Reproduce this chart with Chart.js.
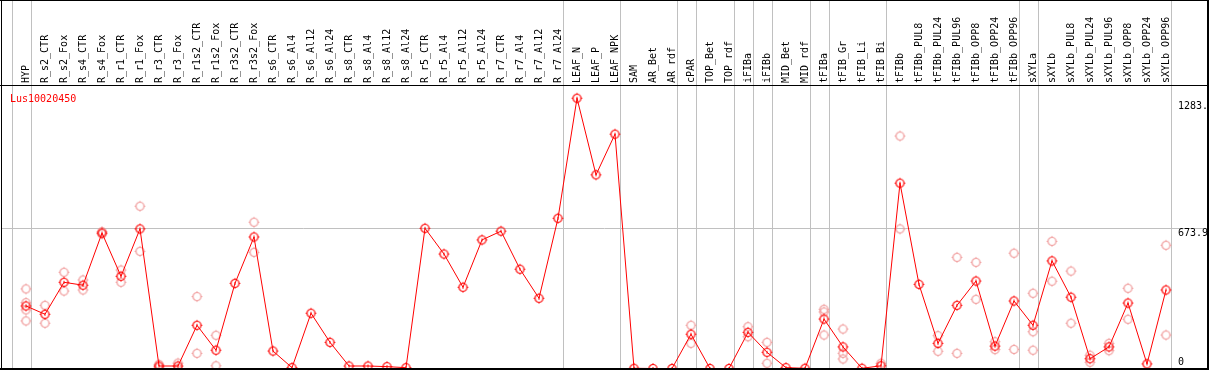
<!DOCTYPE html>
<html>
<head>
<meta charset="utf-8">
<script src="https://cdn.jsdelivr.net/npm/chart.js@4.4.1/dist/chart.umd.min.js"></script>
<style>
  html, body { margin: 0; padding: 0; background: #fff; }
  canvas { display: block; }
</style>
</head>
<body>
<canvas id="c" width="1209" height="370"></canvas>
<script>
const geneName = "Lus10020450";

const categories = [
  "HYP","R_s2_CTR","R_s2_Fox","R_s4_CTR","R_s4_Fox","R_r1_CTR","R_r1_Fox","R_r3_CTR","R_r3_Fox",
  "R_r1s2_CTR","R_r1s2_Fox","R_r3s2_CTR","R_r3s2_Fox","R_s6_CTR","R_s6_Al4","R_s6_Al12","R_s6_Al24",
  "R_s8_CTR","R_s8_Al4","R_s8_Al12","R_s8_Al24","R_r5_CTR","R_r5_Al4","R_r5_Al12","R_r5_Al24",
  "R_r7_CTR","R_r7_Al4","R_r7_Al12","R_r7_Al24","LEAF_N","LEAF_P","LEAF_NPK","SAM","AR_Bet","AR_rdf",
  "cPAR","TOP_Bet","TOP_rdf","iFIBa","iFIBb","MID_Bet","MID_rdf","tFIBa","tFIB_Gr","tFIB_Li","tFIB_Bi",
  "tFIBb","tFIBb_PUL8","tFIBb_PUL24","tFIBb_PUL96","tFIBb_OPP8","tFIBb_OPP24","tFIBb_OPP96",
  "sXYLa","sXYLb","sXYLb_PUL8","sXYLb_PUL24","sXYLb_PUL96","sXYLb_OPP8","sXYLb_OPP24","sXYLb_OPP96"
];

const meanValues = [
  301, 261, 415, 401, 652, 444, 672, 12, 12,
  208, 88, 410, 633, 84, 4, 266, 126,
  12, 12, 9, 4, 675, 551, 391, 619,
  661, 478, 338, 723, 1301, 932, 1128, 1, 0, 0,
  165, 0, 0, 174, 78, 4, 1, 238, 104, 1, 13,
  892, 405, 121, 304, 421, 108, 325,
  208, 518, 343, 47, 104, 315, 22, 378
];

// replicate samples: category index and value
const repIndex = [
  0,0,0,0, 1,1, 2,2, 3,3, 4,4, 5,5, 6,6, 7,7, 8,8, 9,9, 10,10, 12,12,
  35,35, 38,38, 39,39, 42,42,42, 43,43,43, 45,
  46,46, 48,48, 49,49, 50,50, 51,51, 52,52,
  53,53,53, 54,54, 55,55, 56,56, 57,57, 58,58, 60,60
];
const repValue = [
  383,317,282,229, 304,218, 463,373, 426,378, 659,648, 474,415, 781,564, 20,4, 26,0, 346,73, 160,13, 704,559,
  208,121, 201,153, 126,25, 285,272,161, 190,73,46, 25,
  1119,672, 158,83, 535,73, 511,333, 129,91, 555,92,
  362,177,88, 612,420, 469,218, 64,30, 121,86, 386,237, 593,161
];

const yTickValues = [0, 673.9, 1283];
const yTickLabels = ["0", "673.9", "1283."];
const gridValues = [673.9];
// group separators drawn just after these category indices
const separatorsAfter = [-1, 0, 28, 31, 34, 35, 37, 38, 39, 41, 42, 45, 52, 53, 60];

function makeMarker(color, centerDot) {
  const c = document.createElement('canvas');
  c.width = 13; c.height = 13;
  const g = c.getContext('2d');
  g.strokeStyle = color;
  g.lineWidth = 1.2;
  g.beginPath(); g.arc(6.5, 6.5, 4, 0, 2 * Math.PI); g.stroke();
  g.lineWidth = 1;
  g.beginPath();
  g.moveTo(6.5, 1.2); g.lineTo(6.5, 2.6);
  g.moveTo(6.5, 10.4); g.lineTo(6.5, 11.8);
  g.moveTo(1.2, 6.5); g.lineTo(2.6, 6.5);
  g.moveTo(10.4, 6.5); g.lineTo(11.8, 6.5);
  g.stroke();
  if (centerDot) { g.fillStyle = color; g.fillRect(6, 5, 1, 3); }
  return c;
}

const RED = '#ff0000';
const PINK = '#f09a9a';
const GRID = '#c0c0c0';
const FONT = '"DejaVu Sans Mono", "Liberation Mono", monospace';

const decor = {
  id: 'decor',
  beforeDatasetsDraw(chart) {
    const ctx = chart.ctx, xs = chart.scales.x, ys = chart.scales.y, a = chart.chartArea;
    ctx.save();
    ctx.strokeStyle = GRID; ctx.lineWidth = 1;
    separatorsAfter.forEach(i => {
      const x = Math.round(xs.getPixelForValue(i + 0.24)) + 0.5;
      ctx.beginPath(); ctx.moveTo(x, 0); ctx.lineTo(x, chart.height); ctx.stroke();
    });
    gridValues.forEach(v => {
      const y = Math.round(ys.getPixelForValue(v)) + 0.5;
      ctx.beginPath(); ctx.moveTo(a.left, y); ctx.lineTo(a.right, y); ctx.stroke();
    });
    ctx.restore();
  },
  afterDraw(chart) {
    const ctx = chart.ctx, ys = chart.scales.y, a = chart.chartArea;
    ctx.save();
    ctx.fillStyle = '#000';
    ctx.font = '10px ' + FONT;
    ctx.textAlign = 'left';
    yTickValues.forEach((v, k) => {
      const y = ys.getPixelForValue(v);
      if (v === 0) { ctx.textBaseline = 'bottom'; ctx.fillText(yTickLabels[k], 1178, y - 1); }
      else { ctx.textBaseline = 'top'; ctx.fillText(yTickLabels[k], 1178, y - 0.5); }
    });
    ctx.fillStyle = RED;
    ctx.textBaseline = 'top';
    ctx.fillText(geneName, 10, a.top + 9);
    // frame
    ctx.fillStyle = '#000';
    ctx.fillRect(0, 0, chart.width, 1);
    ctx.fillRect(0, a.top, chart.width, 1);
    ctx.fillRect(1, 0, 1, chart.height);
    ctx.fillRect(chart.width - 2, 0, 2, chart.height);
    ctx.fillRect(0, chart.height - 2, chart.width, 2);
    ctx.restore();
  }
};

new Chart(document.getElementById('c'), {
  type: 'line',
  data: {
    datasets: [
      {
        label: 'mean',
        data: meanValues.map((v, i) => ({ x: i, y: v })),
        borderColor: RED,
        borderWidth: 1,
        pointStyle: makeMarker(RED, true),
        pointRadius: 6,
        tension: 0,
        fill: false,
        clip: false
      },
      {
        label: 'replicates',
        data: repValue.map((v, k) => ({ x: repIndex[k], y: v })),
        showLine: false,
        borderColor: PINK,
        pointStyle: makeMarker(PINK, false),
        pointRadius: 6,
        clip: false
      }
    ]
  },
  options: {
    responsive: false,
    animation: false,
    devicePixelRatio: 1,
    layout: { autoPadding: false, padding: { left: 2, right: 2, top: 0, bottom: 1 } },
    plugins: { legend: { display: false }, tooltip: { enabled: false }, title: { display: false } },
    scales: {
      x: {
        type: 'linear',
        position: 'top',
        min: -24 / 19,
        max: -24 / 19 + 1205 / 19,
        grid: { display: false, drawTicks: false },
        border: { display: false },
        afterBuildTicks: (axis) => { axis.ticks = categories.map((c, i) => ({ value: i })); },
        afterFit: (axis) => {
          axis.height = 85;
          axis.paddingLeft = 0; axis.paddingRight = 0;
          axis.paddingTop = 0; axis.paddingBottom = 0;
        },
        ticks: {
          autoSkip: false,
          minRotation: 90,
          maxRotation: 90,
          padding: 2,
          labelOffset: 12,
          color: '#000',
          font: { family: FONT, size: 10 },
          callback: (v, idx) => categories[idx]
        }
      },
      y: {
        type: 'linear',
        display: false,
        min: -0.5 * 1367 / 284,
        max: -0.5 * 1367 / 284 + 1367
      }
    }
  },
  plugins: [decor]
});
</script>
</body>
</html>
